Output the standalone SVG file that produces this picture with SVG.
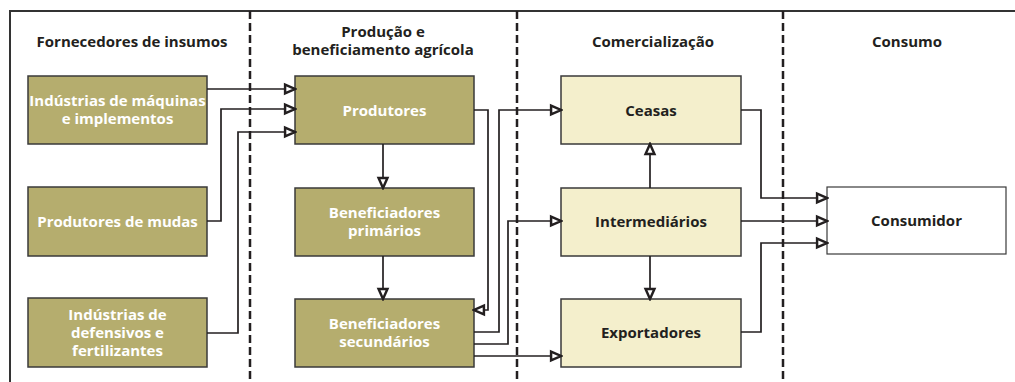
<svg xmlns="http://www.w3.org/2000/svg" width="1015" height="382" viewBox="0 0 1015 382">
<style>
text{font-family:"Open Sans","Noto Sans","Liberation Sans",sans-serif;font-weight:700;font-size:15px;text-anchor:middle}
.h{fill:#231f20}
.w{fill:#ffffff}
.d{fill:#231f20}
.olive{fill:#b5ad6e;stroke:#3a3a3a;stroke-width:1.5}
.light{fill:#f4efcc;stroke:#3a3a3a;stroke-width:1.5}
.white{fill:#ffffff;stroke:#3a3a3a;stroke-width:1.2}
.frame{fill:none;stroke:#333;stroke-width:2}
.dash{fill:none;stroke:#231f20;stroke-width:2.5;stroke-dasharray:8 4}
.c{fill:none;stroke:#231f20;stroke-width:1.7;marker-end:url(#a)}
</style>
<defs>
<marker id="a" markerUnits="userSpaceOnUse" markerWidth="14" markerHeight="14" viewBox="-1 -1 12 12" refX="9.5" refY="5" orient="auto">
<polygon points="1,1.2 9.5,5 1,8.8" fill="#fff" stroke="#231f20" stroke-width="2.1"/>
</marker>
</defs>
<rect width="1015" height="382" fill="#fff"/>
<g id="frame">
<path class="frame" d="M10,382 V11 H1015"/>
<path class="dash" d="M250,11 V382 M517,11 V382 M783,11 V382"/>
</g>
<g id="headings">
<text class="h" x="132" y="47">Fornecedores de insumos</text>
<text class="h" x="383" y="37">Produção e</text>
<text class="h" x="383" y="55">beneficiamento agrícola</text>
<text class="h" x="653" y="47">Comercialização</text>
<text class="h" x="907" y="47">Consumo</text>
</g>
<g id="maquinas"><rect class="olive" x="28" y="76" width="179" height="68"/><text class="w" x="117.5" y="106">Indústrias de máquinas</text><text class="w" x="117.5" y="124">e implementos</text></g>
<g id="mudas"><rect class="olive" x="28" y="187" width="179" height="69"/><text class="w" x="117.5" y="227">Produtores de mudas</text></g>
<g id="defensivos"><rect class="olive" x="28" y="298" width="179" height="69"/><text class="w" x="117.5" y="320">Indústrias de</text><text class="w" x="117.5" y="338">defensivos e</text><text class="w" x="117.5" y="356">fertilizantes</text></g>
<g id="produtores"><rect class="olive" x="295" y="76" width="179" height="68"/><text class="w" x="384.5" y="116">Produtores</text></g>
<g id="primarios"><rect class="olive" x="295" y="188" width="179" height="68"/><text class="w" x="384.5" y="218">Beneficiadores</text><text class="w" x="384.5" y="236">primários</text></g>
<g id="secundarios"><rect class="olive" x="295" y="299" width="179" height="68"/><text class="w" x="384.5" y="329">Beneficiadores</text><text class="w" x="384.5" y="347">secundários</text></g>
<g id="ceasas"><rect class="light" x="561" y="76" width="180" height="68"/><text class="d" x="651" y="116">Ceasas</text></g>
<g id="intermediarios"><rect class="light" x="561" y="188" width="180" height="68"/><text class="d" x="651" y="227">Intermediários</text></g>
<g id="exportadores"><rect class="light" x="561" y="299" width="180" height="68"/><text class="d" x="651" y="338">Exportadores</text></g>
<g id="consumidor"><rect class="white" x="827" y="187" width="179" height="67"/><text class="d" x="916.5" y="226">Consumidor</text></g>
<g id="connectors">
<path class="c" d="M207,89 H295"/>
<path class="c" d="M207,221 H221 V109 H295"/>
<path class="c" d="M207,333 H238 V132 H295"/>
<path class="c" d="M383,144 V188"/>
<path class="c" d="M383,256 V299"/>
<path class="c" d="M474,110 H488 V310 H474"/>
<path class="c" d="M474,332 H499 V110 H561"/>
<path class="c" d="M474,344 H508 V221 H561"/>
<path class="c" d="M474,356 H561"/>
<path class="c" d="M650,188 V144"/>
<path class="c" d="M650,256 V299"/>
<path class="c" d="M741,110 H761 V198 H827"/>
<path class="c" d="M741,221 H827"/>
<path class="c" d="M741,332 H761 V243 H827"/>
</g>
</svg>
